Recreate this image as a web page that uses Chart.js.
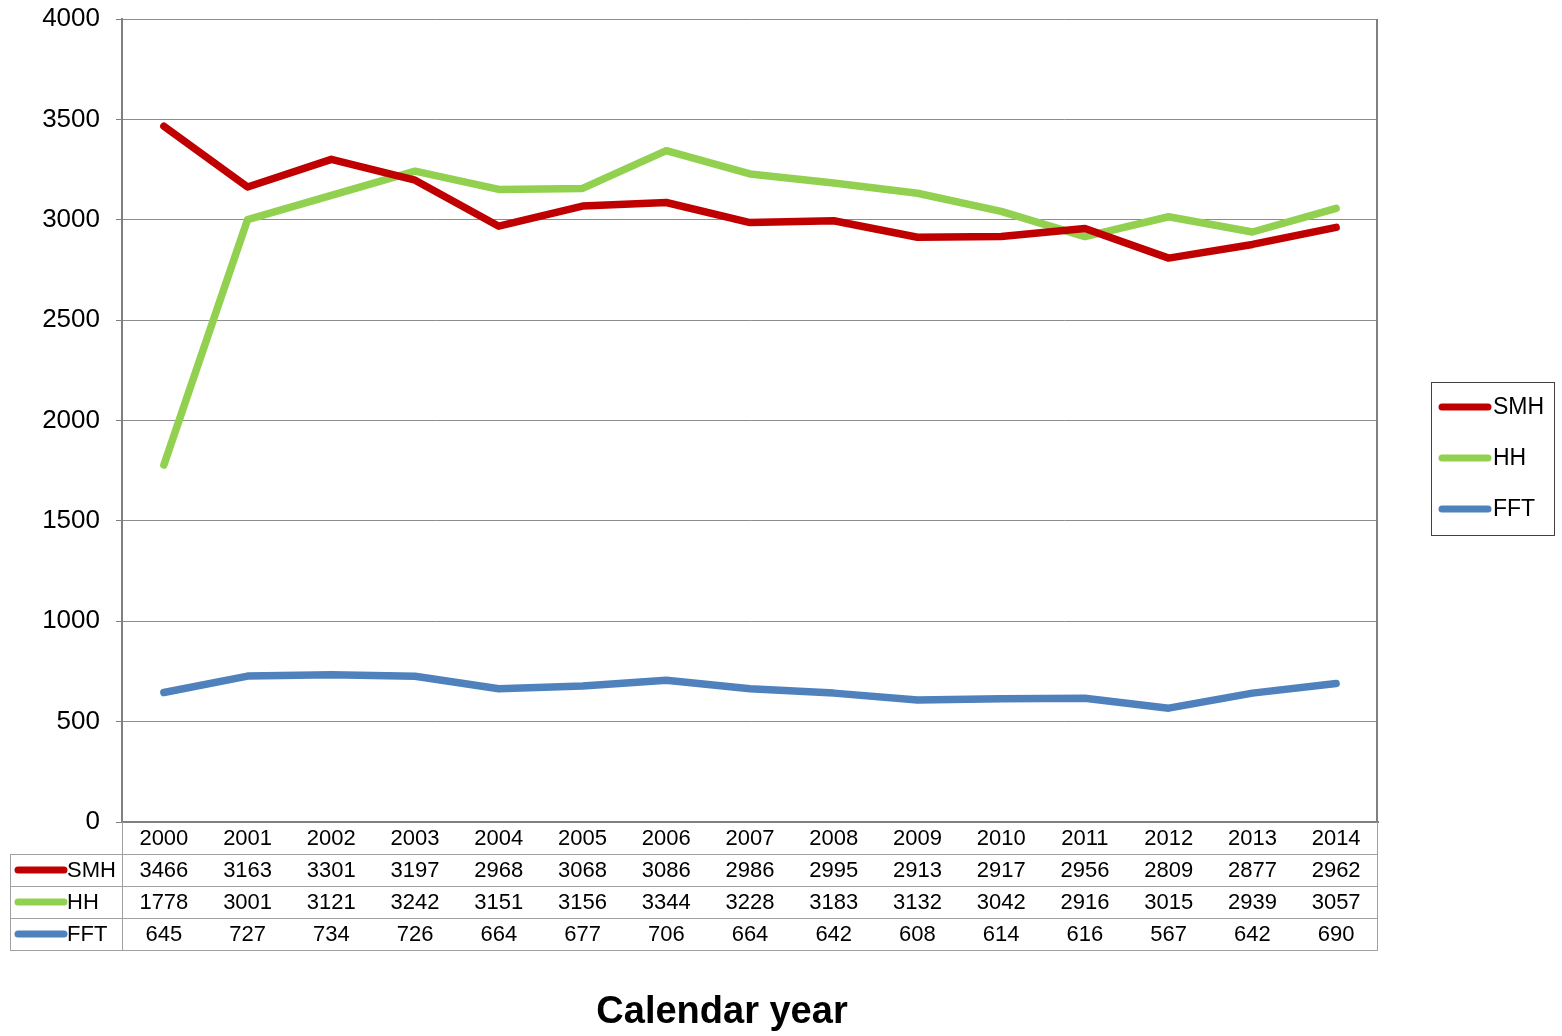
<!DOCTYPE html>
<html>
<head>
<meta charset="utf-8">
<script src="https://cdn.jsdelivr.net/npm/chart.js@4/dist/chart.umd.min.js"></script>
<style>
  html, body { margin: 0; padding: 0; background: #fff; }
  #wrap { width: 1562px; height: 1036px; }
</style>
</head>
<body>
<div id="wrap"><canvas id="chart"></canvas></div>
<script>
const years = ['2000', '2001', '2002', '2003', '2004', '2005', '2006', '2007',
    '2008', '2009', '2010', '2011', '2012', '2013', '2014'];
const smh = [3466, 3163, 3301, 3197, 2968, 3068, 3086, 2986, 2995, 2913, 2917, 2956, 2809, 2877, 2962];
const hh = [1778, 3001, 3121, 3242, 3151, 3156, 3344, 3228, 3183, 3132, 3042, 2916, 3015, 2939, 3057];
const fft = [645, 727, 734, 726, 664, 677, 706, 664, 642, 608, 614, 616, 567, 642, 690];
const seriesNames = ['SMH', 'HH', 'FFT'];
const seriesColors = ['#C00000', '#92D050', '#4F81BD'];
const xTitle = 'Calendar year';

const FONT = '"Liberation Sans", Arial, sans-serif';

// data table under the plot, the legend box and the axis title
const tablePlugin = {
    id: 'dataTable',
    afterDraw(chart) {
        const ctx = chart.ctx;
        const area = chart.chartArea;
        const x = chart.scales.x;
        const rowH = 32;
        const top = area.bottom;
        const leftCol = 10;
        const rows = [smh, hh, fft];

        ctx.save();
        ctx.strokeStyle = '#a0a0a0';
        ctx.lineWidth = 1;
        ctx.beginPath();
        for (let r = 1; r <= 4; r++) {
            const y = Math.round(top + r * rowH) + 0.5;
            ctx.moveTo(leftCol, y);
            ctx.lineTo(area.right, y);
        }
        ctx.moveTo(leftCol + 0.5, top + rowH);
        ctx.lineTo(leftCol + 0.5, top + 4 * rowH);
        ctx.moveTo(Math.round(area.left) + 0.5, top);
        ctx.lineTo(Math.round(area.left) + 0.5, top + 4 * rowH);
        ctx.moveTo(Math.round(area.right) - 0.5, top);
        ctx.lineTo(Math.round(area.right) - 0.5, top + 4 * rowH);
        ctx.stroke();

        ctx.font = '22px ' + FONT;
        ctx.fillStyle = '#000';
        ctx.textAlign = 'center';
        ctx.textBaseline = 'middle';
        years.forEach((yr, i) => {
            ctx.fillText(yr, x.getPixelForValue(i), top + rowH / 2 + 1);
        });
        rows.forEach((vals, r) => {
            const cy = top + (r + 1) * rowH + rowH / 2 + 1;
            vals.forEach((v, i) => {
                ctx.fillText(String(v), x.getPixelForValue(i), cy);
            });
            ctx.strokeStyle = seriesColors[r];
            ctx.lineWidth = 7;
            ctx.lineCap = 'round';
            ctx.beginPath();
            ctx.moveTo(18, cy - 1);
            ctx.lineTo(64, cy - 1);
            ctx.stroke();
            ctx.textAlign = 'left';
            ctx.fillText(seriesNames[r], 67, cy);
            ctx.textAlign = 'center';
        });

        // legend box
        ctx.strokeStyle = '#404040';
        ctx.lineWidth = 1;
        ctx.strokeRect(1431.5, 382.5, 123, 153);
        ctx.font = '23px ' + FONT;
        seriesNames.forEach((name, r) => {
            const cy = 407 + r * 51;
            ctx.strokeStyle = seriesColors[r];
            ctx.lineWidth = 7;
            ctx.lineCap = 'round';
            ctx.beginPath();
            ctx.moveTo(1442, cy);
            ctx.lineTo(1488, cy);
            ctx.stroke();
            ctx.textAlign = 'left';
            ctx.fillText(name, 1493, cy + 1);
        });

        ctx.font = 'bold 38px ' + FONT;
        ctx.textAlign = 'center';
        ctx.fillText(xTitle, 722, 1013);
        ctx.restore();
    }
};

new Chart(document.getElementById('chart'), {
    type: 'line',
    data: {
        labels: years,
        datasets: [smh, hh, fft].map((vals, i) => ({
            label: seriesNames[i],
            data: vals,
            borderColor: seriesColors[i],
            backgroundColor: seriesColors[i],
            borderWidth: 7.5,
            pointRadius: 0,
            tension: 0,
            borderCapStyle: 'round',
            borderJoinStyle: 'round',
        }))
    },
    options: {
        responsive: true,
        maintainAspectRatio: false,
        animation: false,
        layout: { padding: { top: 19, right: 184, left: 0, bottom: 0 } },
        scales: {
            x: {
                offset: true,
                grid: { display: false, drawTicks: false },
                border: { display: true, color: '#808080', width: 2 },
                ticks: { display: false },
                afterFit(scale) { scale.height = 214; }
            },
            y: {
                min: 0,
                max: 4000,
                ticks: {
                    stepSize: 500,
                    color: '#000',
                    font: { family: FONT, size: 26 },
                    padding: 16,
                    callback: (v) => String(v),
                },
                grid: { color: '#8c8c8c', lineWidth: 1, tickLength: 6, tickColor: '#808080' },
                border: { display: true, color: '#808080', width: 2 },
                afterFit(scale) {
                    scale.width = 122;
                    scale.paddingTop = 0;
                    scale.paddingBottom = 0;
                }
            }
        },
        plugins: {
            legend: { display: false },
            tooltip: { enabled: false }
        }
    },
    plugins: [tablePlugin, {
        id: 'rightBorder',
        beforeDatasetsDraw(chart) {
            const { ctx, chartArea } = chart;
            ctx.save();
            ctx.strokeStyle = '#808080';
            ctx.lineWidth = 2;
            ctx.beginPath();
            ctx.moveTo(chartArea.right - 1, chartArea.top);
            ctx.lineTo(chartArea.right - 1, chartArea.bottom);
            ctx.stroke();
            ctx.restore();
        }
    }]
});
</script>
</body>
</html>
